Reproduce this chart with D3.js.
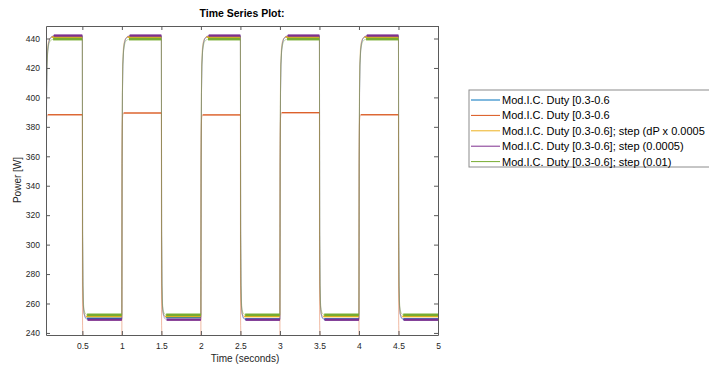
<!DOCTYPE html>
<html>
<head>
<meta charset="utf-8">
<script src="https://cdn.jsdelivr.net/npm/d3@7"></script>
<style>
  html, body { margin: 0; padding: 0; background: #fff; overflow: hidden; }
  svg { display: block; font-family: "Liberation Sans", Arial, sans-serif; }
</style>
</head>
<body>
<svg id="chart" width="709" height="367"></svg>
<script>
// Axis extents and ticks
const timeRange = [0.04, 5];
const powerRange = [238.6, 448.5];
const xTicks = [0.5, 1, 1.5, 2, 2.5, 3, 3.5, 4, 4.5, 5];
const yTicks = [240, 260, 280, 300, 320, 340, 360, 380, 400, 420, 440];

// Switching schedule (s): high-power phase start/end, low-phase end
const highStart = [0.04, 1, 2, 3, 4];
const highEnd = [0.5, 1.5, 2.5, 3.5, 4.5];
const lowEnd = [1, 2, 3, 4, 5];

// Transient shape after each switch: time offset (s) and fraction of the step completed
const riseDt = [0, 0.003, 0.007, 0.012, 0.02, 0.03, 0.045, 0.065, 0.09];
const riseFrac = [0, 0.55, 0.8, 0.9, 0.95, 0.975, 0.99, 0.997, 1];
const fallDt = [0, 0.003, 0.007, 0.012, 0.02, 0.035, 0.06];
const fallFrac = [0, 0.7, 0.88, 0.95, 0.98, 0.995, 1];

// Series
const seriesNames = [
  "Mod.I.C. Duty [0.3-0.6",
  "Mod.I.C. Duty [0.3-0.6",
  "Mod.I.C. Duty [0.3-0.6]; step (dP x 0.0005",
  "Mod.I.C. Duty [0.3-0.6]; step (0.0005)",
  "Mod.I.C. Duty [0.3-0.6]; step (0.01)"
];
const seriesColors = ["#0072BD", "#D95319", "#EDB120", "#7E2F8E", "#77AC30"];
// Relative settling time of each series' transients
const settleScale = [1, 0.25, 0.8, 1.1, 1];
const initialPower = [240, 237.5, 241, 239, 241];
const highPower = [
  [441.3, 441.3, 441.3, 441.3, 441.3],
  [388.2, 389.4, 388.1, 389.6, 388.2],
  [441.0, 441.0, 441.0, 441.0, 441.0],
  [442.0, 442.0, 442.0, 442.0, 442.0],
  [439.6, 439.6, 439.6, 439.6, 439.6]
];
const lowPower = [
  [249.8, 250.6, 249.3, 249.3, 249.3],
  [237.5, 237.5, 237.5, 237.5, 237.5],
  [251.2, 251.2, 251.2, 251.2, 251.2],
  [249.0, 249.0, 249.0, 249.0, 249.0],
  [252.3, 252.3, 252.3, 252.3, 252.3]
];
// Steady-state ripple amplitude (W)
const ripple = [0.7, 0.4, 0.6, 0.8, 0.9];

const svg = d3.select("#chart");
const plot = { left: 46, right: 438, top: 26, bottom: 335 };

const x = d3.scaleLinear().domain(timeRange).range([plot.left, plot.right]);
const y = d3.scaleLinear().domain(powerRange).range([plot.bottom, plot.top]);

svg.append("defs").append("clipPath").attr("id", "plotClip")
  .append("rect")
  .attr("x", plot.left).attr("y", plot.top)
  .attr("width", plot.right - plot.left).attr("height", plot.bottom - plot.top);

// Build the trace of one series from its phase levels
function buildTrace(k) {
  const pts = [];
  const s = settleScale[k];
  let prev = initialPower[k];
  highStart.forEach((t0, i) => {
    const hi = highPower[k][i], lo = lowPower[k][i];
    riseDt.forEach((dt, j) => pts.push([t0 + dt * s, prev + (hi - prev) * riseFrac[j]]));
    pts.push([highEnd[i], hi]);
    fallDt.forEach((dt, j) => pts.push([highEnd[i] + dt * s, hi + (lo - hi) * fallFrac[j]]));
    pts.push([lowEnd[i], lo]);
    prev = lo;
  });
  return pts;
}

// Steady segments used to draw the ripple band
function steadySegments(k) {
  const s = settleScale[k];
  const segs = [];
  highStart.forEach((t0, i) => {
    segs.push({ t0: t0 + riseDt[riseDt.length - 1] * s, t1: highEnd[i], v: highPower[k][i] });
    segs.push({ t0: highEnd[i] + fallDt[fallDt.length - 1] * s, t1: lowEnd[i], v: lowPower[k][i] });
  });
  return segs;
}

const line = d3.line().x(d => x(d[0])).y(d => y(d[1]));
const traces = svg.append("g").attr("clip-path", "url(#plotClip)");

seriesNames.forEach((name, k) => {
  const g = traces.append("g");
  g.append("path")
    .attr("d", line(buildTrace(k)))
    .attr("fill", "none")
    .attr("stroke", seriesColors[k])
    .attr("stroke-width", 1)
    .attr("stroke-opacity", 0.4);
  g.selectAll("rect.band")
    .data(steadySegments(k))
    .join("rect")
    .attr("class", "band")
    .attr("x", d => x(d.t0))
    .attr("width", d => x(d.t1) - x(d.t0))
    .attr("y", d => y(d.v + ripple[k]))
    .attr("height", d => y(d.v - ripple[k]) - y(d.v + ripple[k]))
    .attr("fill", seriesColors[k]);
});

// Axes with inward ticks on all four sides
const axisColor = "#262626";
const tickLen = 4;
const fmt = d3.format("~g");

function styleAxis(g, showLabels) {
  g.select(".domain").attr("stroke", "#5a5a5a");
  g.selectAll(".tick line").attr("stroke", "#5a5a5a");
  g.selectAll(".tick text")
    .attr("fill", axisColor)
    .style("font-size", "8.5px")
    .style("display", showLabels ? null : "none");
}

svg.append("g")
  .attr("transform", `translate(0,${plot.bottom})`)
  .call(d3.axisBottom(x).tickValues(xTicks).tickFormat(fmt).tickSizeInner(-tickLen).tickSizeOuter(0).tickPadding(8))
  .call(g => styleAxis(g, true));
svg.append("g")
  .attr("transform", `translate(0,${plot.top})`)
  .call(d3.axisTop(x).tickValues(xTicks).tickFormat(fmt).tickSizeInner(-tickLen).tickSizeOuter(0))
  .call(g => styleAxis(g, false));
svg.append("g")
  .attr("transform", `translate(${plot.left},0)`)
  .call(d3.axisLeft(y).tickValues(yTicks).tickFormat(fmt).tickSizeInner(-tickLen).tickSizeOuter(0).tickPadding(6))
  .call(g => styleAxis(g, true));
svg.append("g")
  .attr("transform", `translate(${plot.right},0)`)
  .call(d3.axisRight(y).tickValues(yTicks).tickFormat(fmt).tickSizeInner(-tickLen).tickSizeOuter(0))
  .call(g => styleAxis(g, false));

// Titles
svg.append("text")
  .attr("x", (plot.left + plot.right) / 2).attr("y", 17)
  .attr("text-anchor", "middle")
  .style("font-size", "10.5px").style("font-weight", "bold")
  .attr("fill", "#000")
  .text("Time Series Plot:");
svg.append("text")
  .attr("x", (plot.left + plot.right) / 2 + 3).attr("y", 362)
  .attr("text-anchor", "middle")
  .style("font-size", "10px")
  .attr("fill", axisColor)
  .text("Time (seconds)");
svg.append("text")
  .attr("transform", `translate(21,180) rotate(-90)`)
  .attr("text-anchor", "middle")
  .style("font-size", "10px")
  .attr("fill", axisColor)
  .text("Power [W]");

// Legend
const legend = svg.append("g").attr("transform", "translate(469,90)");
legend.append("rect")
  .attr("x", 0).attr("y", 0).attr("width", 260).attr("height", 77)
  .attr("fill", "#fff").attr("stroke", "#8c8c8c").attr("stroke-width", 1);
const rows = legend.selectAll("g.row").data(seriesNames).join("g")
  .attr("class", "row")
  .attr("transform", (d, i) => `translate(0,${10 + i * 15.4})`);
rows.append("line")
  .attr("x1", 2).attr("x2", 31).attr("y1", 0).attr("y2", 0)
  .attr("stroke", (d, i) => seriesColors[i]).attr("stroke-width", 1);
rows.append("text")
  .attr("x", 33).attr("y", 4)
  .style("font-size", "11px")
  .attr("fill", "#000")
  .text(d => d);
</script>
</body>
</html>
